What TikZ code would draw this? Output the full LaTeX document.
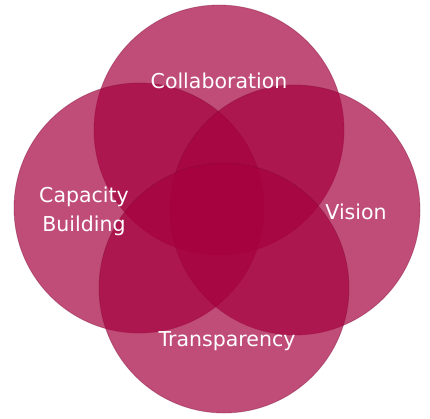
\documentclass[tikz,border=0pt]{standalone}
\usepackage{fontspec}
\setmainfont{DejaVu Sans}
\begin{document}
\begin{tikzpicture}[x=1pt,y=-1pt,
  venn/.style={circle, minimum size=250pt, inner sep=0pt, fill=vfill, fill opacity=0.7, draw=vrim, draw opacity=0.35, line width=0.8pt},
  lbl/.style={text=white, font=\fontsize{20.5}{29}\selectfont, align=center}]
\definecolor{vfill}{RGB}{165,0,62}
\definecolor{vrim}{RGB}{120,10,50}
\useasboundingbox (0,0) rectangle (430,419);
\node[venn] (top) at (219,130) {};
\node[venn] (left) at (139,208) {};
\node[venn] (right) at (295,210) {};
\node[venn] (bottom) at (224,288) {};
\node[lbl] (tc) at (219,81) {Collaboration};
\node[lbl] (tl) at (84,211) {Capacity\\Building};
\node[lbl] (tr) at (356,212) {Vision};
\node[lbl] (tb) at (227,341) {Transparency};
\end{tikzpicture}
\end{document}
